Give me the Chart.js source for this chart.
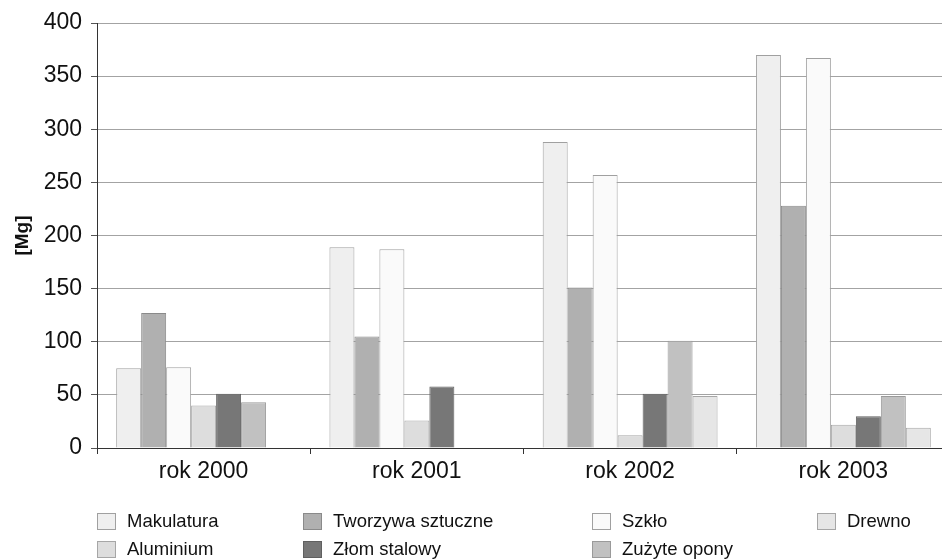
<!DOCTYPE html>
<html>
<head>
<meta charset="utf-8">
<script src="https://cdn.jsdelivr.net/npm/chart.js@4.4.0/dist/chart.umd.min.js"></script>
<style>
  html, body { margin: 0; padding: 0; background: #fff; overflow: hidden; }
  #wrap { position: relative; width: 955px; height: 559px; }
  #legend { position: absolute; left: 0; top: 0; width: 942px; height: 559px; pointer-events: none;
    font-family: "Liberation Sans", Arial, sans-serif; font-size: 18.5px; color: #111; }
  .item { position: absolute; height: 17px; line-height: 17px; white-space: nowrap; }
  .box { position: absolute; left: 0; top: 0; width: 17px; height: 15px; border: 1px solid #999; }
  .label { position: absolute; left: 30px; top: -1px; }
</style>
</head>
<body>
<div id="wrap">
  <canvas id="myChart" width="955" height="559"></canvas>
  <div id="legend"></div>
</div>
<script>
const years = ["rok 2000", "rok 2001", "rok 2002", "rok 2003"];

const makulatura = [75, 189, 288, 370];
const tworzywa = [127, 105, 151, 228];
const szklo = [76, 187, 257, 367];
const aluminium = [40, 26, 12, 22];
const zlom = [51, 58, 51, 30];
const opony = [43, null, 101, 49];
const drewno = [null, null, 49, 19];

const seriesNames = ["Makulatura", "Tworzywa sztuczne", "Szkło", "Aluminium", "Złom stalowy", "Zużyte opony", "Drewno"];
const seriesColors = ["#efefef", "#b0b0b0", "#fafafa", "#dddddd", "#777777", "#c1c1c1", "#e6e6e6"];
const seriesBorders = ["#a0a0a0", "#8a8a8a", "#a0a0a0", "#a6a6a6", "#606060", "#9a9a9a", "#a6a6a6"];
const seriesData = [makulatura, tworzywa, szklo, aluminium, zlom, opony, drewno];

// legend order as in the picture (4 columns, 2 rows)
const legendOrder = [0, 1, 2, 6, 3, 4, 5];
const legendCols = [97, 303, 592, 817];
const legendRows = [513, 541];

const datasets = seriesNames.map((name, i) => ({
  label: name,
  data: seriesData[i],
  backgroundColor: seriesColors[i],
  borderColor: seriesBorders[i],
  borderWidth: 1,
  categoryPercentage: 0.82,
  barPercentage: 1.0,
}));

const ctx = document.getElementById("myChart");

const myChart = new Chart(ctx, {
  type: "bar",
  data: { labels: years, datasets: datasets },
  options: {
    responsive: false,
    animation: false,
    layout: { padding: { left: 0, top: 23, right: 5, bottom: 51 } },
    plugins: { legend: { display: false }, tooltip: { enabled: false } },
    scales: {
      x: {
        afterFit: (scale) => { scale.height = 60; },
        grid: { drawOnChartArea: false, drawTicks: true, tickLength: 6, color: "#333", offset: true },
        border: { color: "#333", width: 1 },
        ticks: {
          color: "#111",
          padding: 4,
          font: { family: "'Liberation Sans', Arial, sans-serif", size: 23 },
        },
      },
      y: {
        min: 0,
        max: 400,
        afterFit: (scale) => { scale.width = 97; },
        grid: { color: "#a3a3a3", tickLength: 6, tickColor: "#555" },
        border: { color: "#333", width: 1 },
        ticks: {
          stepSize: 50,
          color: "#111",
          padding: 9,
          font: { family: "'Liberation Sans', Arial, sans-serif", size: 23 },
        },
        title: {
          display: true,
          text: "[Mg]",
          color: "#111",
          padding: { top: 11, bottom: 0 },
          font: { family: "'Liberation Sans', Arial, sans-serif", size: 19, weight: "bold" },
        },
      },
    },
  },
});

// html legend
const legendEl = document.getElementById("legend");
legendOrder.forEach((idx, k) => {
  const item = document.createElement("div");
  item.className = "item";
  item.style.left = legendCols[k % 4] + "px";
  item.style.top = legendRows[Math.floor(k / 4)] + "px";
  const box = document.createElement("div");
  box.className = "box";
  box.style.background = seriesColors[idx];
  box.style.borderColor = seriesBorders[idx];
  const label = document.createElement("span");
  label.className = "label";
  label.textContent = seriesNames[idx];
  item.appendChild(box);
  item.appendChild(label);
  legendEl.appendChild(item);
});
</script>
</body>
</html>
